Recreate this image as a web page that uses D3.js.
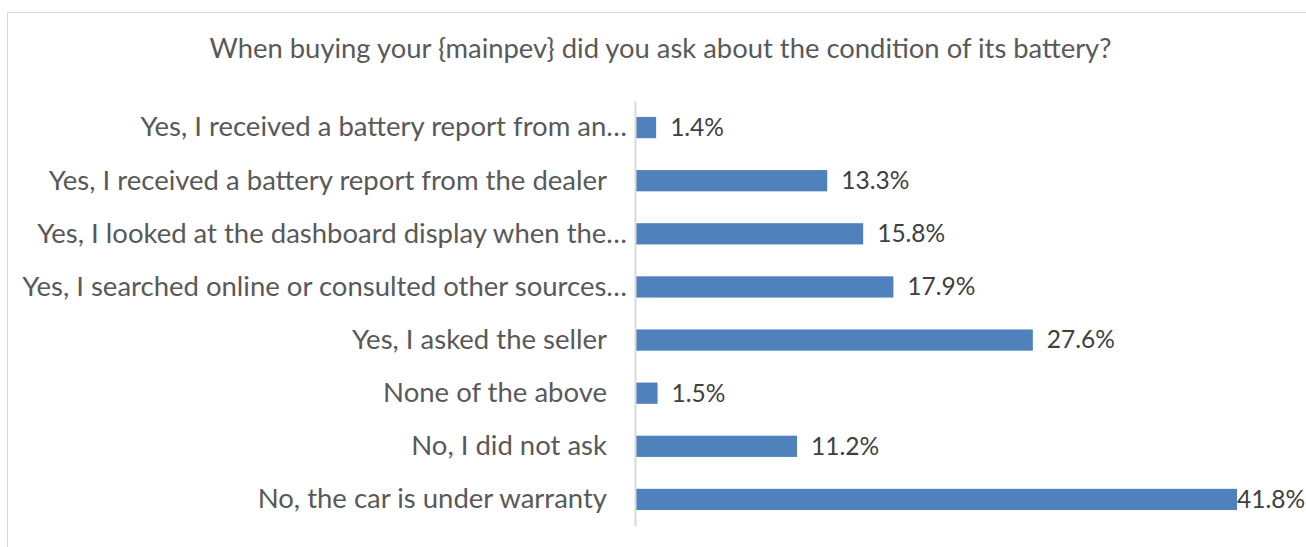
<!DOCTYPE html>
<html>
<head>
<meta charset="utf-8">
<script src="https://cdn.jsdelivr.net/npm/d3@7"></script>
<style>
  body { margin: 0; background: #fff; }
  text { font-family: Lato, sans-serif; }
</style>
</head>
<body>
<svg id="chart" width="1306" height="547"></svg>
<script>
// answers, top to bottom
var answers = [
  'Yes, I received a battery report from an\u2026',
  'Yes, I received a battery report from the dealer',
  'Yes, I looked at the dashboard display when the\u2026',
  'Yes, I searched online or consulted other sources\u2026',
  'Yes, I asked the seller',
  'None of the above',
  'No, I did not ask',
  'No, the car is under warranty'
];
var shares = [1.4, 13.3, 15.8, 17.9, 27.6, 1.5, 11.2, 41.8];
var title = 'When buying your {mainpev} did you ask about the condition of its battery?';

var svg = d3.select('#chart');

// outer frame, runs off right/bottom edge
svg.append('rect')
    .attr('x', 7.5).attr('y', 12.5)
    .attr('width', 1320).attr('height', 560)
    .attr('fill', '#fff')
    .attr('stroke', '#d9d9d9');

svg.append('text')
    .attr('x', 660.5).attr('y', 58)
    .attr('text-anchor', 'middle')
    .attr('font-size', 27.4)
    .attr('fill', '#595959')
    .text(title);

var x = d3.scaleLinear().domain([0, 41.8]).range([636, 1237]);
var y = d3.scaleBand().domain(answers).range([101, 526]).paddingInner(0.6).paddingOuter(0.3);

svg.selectAll('rect.bar')
    .data(shares)
    .enter().append('rect')
    .attr('class', 'bar')
    .attr('x', x(0))
    .attr('y', function(d, i){ return y(answers[i]); })
    .attr('width', function(d){ return x(d) - x(0); })
    .attr('height', y.bandwidth())
    .attr('fill', '#4f81bd');

svg.selectAll('text.val')
    .data(shares)
    .enter().append('text')
    .attr('class', 'val')
    .attr('x', function(d){ return d > 40 ? x(d) : x(d) + 14; })
    .attr('y', function(d, i){ return y(answers[i]) + y.bandwidth() / 2; })
    .attr('dy', '0.34em')
    .attr('font-size', 24.5)
    .attr('fill', '#404040')
    .text(function(d){ return d.toFixed(1) + '%'; });

var yAxis = svg.append('g')
    .attr('transform', 'translate(' + (x(0) - 1) + ',0)')
    .call(d3.axisLeft(y).tickSize(0).tickPadding(28));

yAxis.select('.domain').attr('stroke', '#d9d9d9').attr('stroke-width', 2);
yAxis.selectAll('text')
    .attr('font-size', 27.5)
    .attr('dy', '0.32em')
    .attr('fill', '#595959')
    .style('font-family', 'Lato, sans-serif');

// truncated labels sit closer to the axis, like Excel does
yAxis.selectAll('.tick text')
    .filter(function(d){ return d.slice(-1) === '\u2026'; })
    .attr('x', -8);
</script>
</body>
</html>
